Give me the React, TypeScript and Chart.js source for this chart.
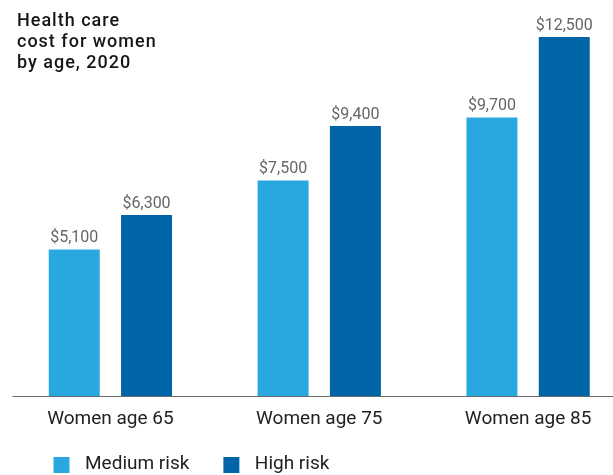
import React, { useEffect, useRef } from 'react';
import { Chart, registerables } from 'chart.js';

Chart.register(...registerables);

// ---- data ----
const categories = ['Women age 65', 'Women age 75', 'Women age 85'];
const seriesNames = ['Medium risk', 'High risk'];
const mediumRisk = [5100, 7500, 9700];
const highRisk = [6300, 9400, 12500];
const titleLines = ['Health care', 'cost for women', 'by age, 2020'];
const yMax = 12500;

// ---- styles ----
const MEDIUM = '#29A7DF';
const HIGH = '#0065A6';
const FONT = 'Roboto';

function makeSwatch(color: string): HTMLCanvasElement {
  const c = document.createElement('canvas');
  c.width = 33;
  c.height = 16;
  const ctx = c.getContext('2d')!;
  ctx.fillStyle = color;
  ctx.fillRect(11, 0, 16, 16);
  return c;
}

const titlePlugin = {
  id: 'leftTitle',
  afterDraw(chart: any) {
    const { ctx } = chart;
    ctx.save();
    ctx.font = `500 18px ${FONT}`;
    try { (ctx as any).letterSpacing = '1px'; } catch (e) {}
    ctx.fillStyle = '#161616';
    ctx.textAlign = 'left';
    ctx.textBaseline = 'alphabetic';
    const baselines = [26, 47, 67.5];
    titleLines.forEach((t, i) => ctx.fillText(t, 17, baselines[i]));
    ctx.restore();
  },
};

const valueLabelPlugin = {
  id: 'valueLabels',
  afterDatasetsDraw(chart: any) {
    const { ctx } = chart;
    ctx.save();
    ctx.font = `16px ${FONT}`;
    ctx.fillStyle = '#666666';
    ctx.textAlign = 'center';
    ctx.textBaseline = 'alphabetic';
    chart.data.datasets.forEach((ds: any, i: number) => {
      const meta = chart.getDatasetMeta(i);
      meta.data.forEach((bar: any, j: number) => {
        const v = ds.data[j] as number;
        ctx.fillText('$' + v.toLocaleString('en-US'), bar.x, bar.y - 7.5);
      });
    });
    ctx.restore();
  },
};

const axisLinePlugin = {
  id: 'axisLine',
  afterDatasetsDraw(chart: any) {
    const { ctx, chartArea } = chart;
    const y = Math.round(chartArea.bottom) + 0.5;
    ctx.save();
    ctx.strokeStyle = '#6b6b6b';
    ctx.lineWidth = 1.2;
    ctx.beginPath();
    ctx.moveTo(12.5, y);
    ctx.lineTo(chart.width, y);
    ctx.stroke();
    ctx.restore();
  },
};

export default function App() {
  const ref = useRef<HTMLCanvasElement>(null);

  useEffect(() => {
    if (!ref.current) return;
    const swatches = [makeSwatch(MEDIUM), makeSwatch(HIGH)];
    const chart = new Chart(ref.current, {
      type: 'bar',
      data: {
        labels: categories,
        datasets: [
          {
            label: seriesNames[0],
            data: mediumRisk,
            backgroundColor: MEDIUM,
            categoryPercentage: 0.6925,
            barPercentage: 0.705,
            clip: false as any,
          },
          {
            label: seriesNames[1],
            data: highRisk,
            backgroundColor: HIGH,
            categoryPercentage: 0.6925,
            barPercentage: 0.705,
            clip: false as any,
          },
        ],
      },
      options: {
        responsive: false,
        animation: false,
        layout: { padding: { left: 19.5, right: 84.9, top: 37, bottom: 0 } },
        scales: {
          x: {
            offset: false,
            grid: { display: false, drawTicks: false },
            border: { display: false },
            ticks: {
              autoSkip: false,
              maxRotation: 0,
              padding: 12,
              color: '#222222',
              font: { family: FONT, size: 19 },
            },
            afterFit(scale: any) {
              scale.height = 36;
            },
          },
          y: {
            min: 0,
            max: yMax,
            grid: { display: false },
            border: { display: false },
            ticks: { display: false },
            afterFit(scale: any) {
              scale.width = 90.9;
            },
          },
        },
        plugins: {
          title: { display: false },
          tooltip: { enabled: false },
          legend: {
            position: 'bottom',
            align: 'start',
            maxHeight: 43,
            labels: {
              usePointStyle: true,
              pointStyleWidth: 33,
              boxHeight: 16,
              padding: 23,
              color: '#222222',
              font: { family: FONT, size: 19 },
              generateLabels(c: any) {
                const items = (Chart.defaults.plugins.legend.labels as any).generateLabels(c);
                return items.map((it: any, i: number) => ({ ...it, pointStyle: swatches[i], lineWidth: 0 }));
              },
            },
          },
        },
      } as any,
      plugins: [titlePlugin, valueLabelPlugin, axisLinePlugin],
    });
    return () => chart.destroy();
  }, []);

  return (
    <div style={{ position: 'fixed', left: 0, top: 0, width: 613, height: 475, background: '#ffffff' }}>
      <canvas ref={ref} width={613} height={475} style={{ width: 613, height: 475, display: 'block' }} />
    </div>
  );
}
